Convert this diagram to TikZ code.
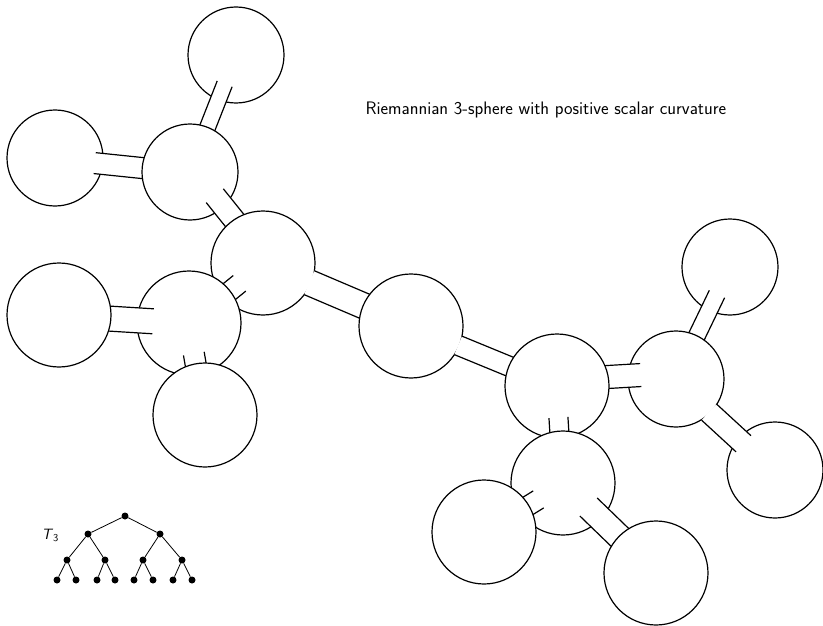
\documentclass[tikz,border=0pt]{standalone}
\usepackage{tikz}
\usetikzlibrary{positioning,calc}

% strip between two balls: from #3 inside #1 to #4 before the centre of #2,
% half width #5, shifted sideways by #6
\newcommand{\tube}[6]{%
  \path ($(#1)!#3!(#2)$) coordinate (p0) ($(#2)!#4!(#1)$) coordinate (q0);
  \path ($(p0)!#6!90:(q0)$) coordinate (p) ($(q0)!#6!-90:(p0)$) coordinate (q);
  \fill[white] ($(p)!#5!90:(q)$) -- ($(q)!#5!-90:(p)$)
    -- ($(q)!#5!90:(p)$) -- ($(p)!#5!-90:(q)$) -- cycle;
  \draw[side] ($(p)!#5!90:(q)$) -- ($(q)!#5!-90:(p)$);
  \draw[side] ($(p)!#5!-90:(q)$) -- ($(q)!#5!90:(p)$);
}

\begin{document}
\begin{tikzpicture}[x=1pt, y=-1pt,
    ball/.style={circle, draw=black, fill=white, line width=1.2pt,
      inner sep=0pt, minimum size=#1},
    ball/.default=104pt,
    side/.style={line width=1.2pt},
    dot/.style={circle, fill=black, inner sep=0pt, minimum size=7pt},
    edge/.style={line width=0.8pt},
    lbl/.style={font=\sffamily\fontsize{18.1}{21}\selectfont},
    tlbl/.style={font=\sffamily\fontsize{15}{18}\selectfont}
  ]
    \useasboundingbox (0,0) rectangle (823,626);
    % centres of the balls
    \coordinate (A) at (236,55);
    \coordinate (B) at (190,172);
    \coordinate (C) at (55,158);
    \coordinate (D) at (263,263);
    \coordinate (E) at (189,323);
    \coordinate (F) at (59,315);
    \coordinate (G) at (205,415);
    \coordinate (H) at (411,326);
    \coordinate (I) at (557,386);
    \coordinate (J) at (676,379);
    \coordinate (K) at (730,267);
    \coordinate (L) at (775,470);
    \coordinate (M) at (563,483);
    \coordinate (N) at (484,532);
    \coordinate (O) at (656,573);

    % balls and tubes, back to front
    \node[ball=96pt] (ballA) at (A) {};
    \node[ball=96pt] (ballC) at (C) {};
    \tube{A}{B}{31pt}{0pt}{8pt}{0pt}
    \tube{C}{B}{40pt}{0pt}{10.5pt}{-1pt}
    \node[ball=96pt] (ballB) at (B) {};
    \tube{B}{D}{34pt}{0pt}{11pt}{4.5pt}
    \node[ball] (ballD) at (D) {};
    \tube{D}{E}{31pt}{0pt}{10pt}{1pt}
    \tube{D}{H}{50.3pt}{0pt}{13pt}{0pt}
    \node[ball] (ballE) at (E) {};
    \tube{E}{F}{36pt}{0pt}{12.5pt}{0.5pt}
    \tube{E}{G}{31pt}{0pt}{10.5pt}{-0.5pt}
    \node[ball] (ballF) at (F) {};
    \node[ball] (ballG) at (G) {};
    \node[ball] (ballH) at (H) {};
    \tube{H}{I}{51pt}{0pt}{10pt}{0pt}
    \node[ball=96pt] (ballK) at (K) {};
    \tube{K}{J}{30pt}{0pt}{8.5pt}{0pt}
    \node[ball=96pt] (ballJ) at (J) {};
    \node[ball=96pt] (ballL) at (L) {};
    \tube{J}{L}{46.7pt}{41pt}{11pt}{-2pt}
    \tube{J}{I}{35pt}{0pt}{11.5pt}{-6pt}
    \node[ball] (ballI) at (I) {};
    \tube{I}{M}{31.5pt}{0pt}{9.5pt}{-0.5pt}
    \node[ball] (ballM) at (M) {};
    \tube{M}{N}{29.5pt}{0pt}{10pt}{1pt}
    \tube{M}{O}{35pt}{0pt}{12.5pt}{0.5pt}
    \node[ball] (ballN) at (N) {};
    \node[ball] (ballO) at (O) {};

    \node[lbl, anchor=base west] (title) at (362,114)
      {Riemannian 3-sphere with positive scalar curvature};

    % the tree T_3
    \node[dot] (t) at (125,516) {};
    \node[dot] (t0) at (88,534) {};
    \node[dot] (t1) at (160,534) {};
    \node[dot] (t00) at (67,560) {};
    \node[dot] (t01) at (105,560) {};
    \node[dot] (t10) at (143,560) {};
    \node[dot] (t11) at (182,560) {};
    \node[dot] (t000) at (57,580) {};
    \node[dot] (t001) at (76,580) {};
    \node[dot] (t010) at (97,580) {};
    \node[dot] (t011) at (115,580) {};
    \node[dot] (t100) at (134,580) {};
    \node[dot] (t101) at (153,580) {};
    \node[dot] (t110) at (173,580) {};
    \node[dot] (t111) at (192,580) {};
    \foreach \p/\c in {t/t0, t/t1, t0/t00, t0/t01, t1/t10, t1/t11,
        t00/t000, t00/t001, t01/t010, t01/t011,
        t10/t100, t10/t101, t11/t110, t11/t111}
      \draw[edge] (\p) -- (\c);
    \node[tlbl, anchor=base west] (tname) at (38,539) {\textit{T}\textsubscript{3}};
  \end{tikzpicture}
\end{document}
